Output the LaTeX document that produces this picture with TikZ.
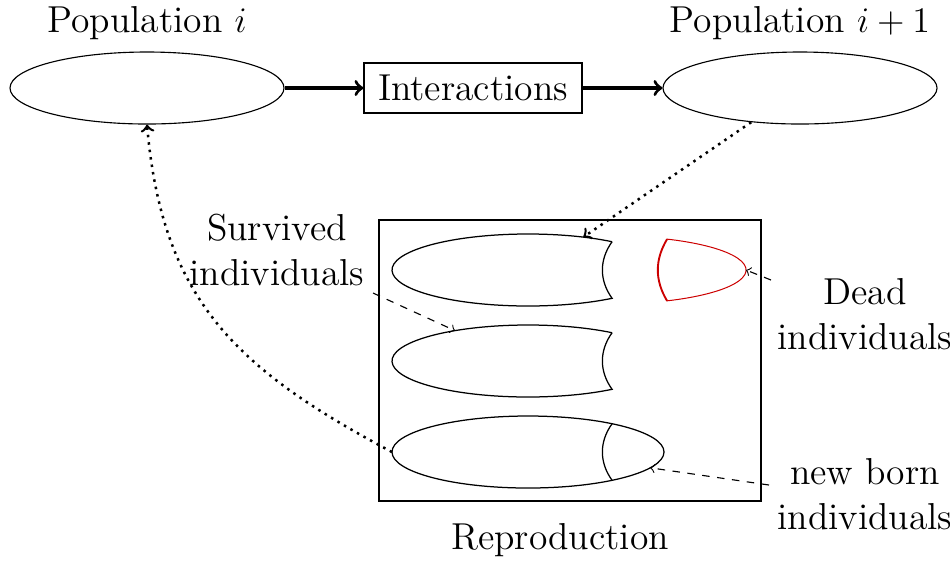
\documentclass[tikz,border=0pt]{standalone}
\usepackage{fontspec}
\setmainfont{lmroman12-regular.otf}
\usetikzlibrary{shapes.geometric}
\begin{document}
\begin{tikzpicture}[x=0.4pt,y=0.4pt,
  font=\fontsize{15pt}{18pt}\selectfont,
  popell/.style={draw, ellipse, minimum width=109.6pt, minimum height=28.8pt, inner sep=0pt, line width=0.45pt},
  boxnode/.style={draw, inner sep=0pt, line width=0.45pt},
  bigarrow/.style={->, line width=1.3pt},
  dotarrow/.style={->, dotted, line width=1pt},
  dasharrow/.style={->, dashed, line width=0.45pt},
  lbl/.style={align=center, inner sep=5pt},
  cell/.style={line width=0.5pt},
  deadcell/.style={draw=red!80!black, line width=0.4pt},
  deadcut/.style={draw=red!80!black, line width=0.75pt}]
\useasboundingbox (0,0) rectangle (950,-563);

% top row
\node[popell] (pop1) at (147,-88) {};
\node[popell] (pop2) at (800,-88) {};
\node[boxnode, minimum width=87.2pt, minimum height=20pt] (inter) at (473,-88) {Interactions};
\node[lbl] (lpop1) at (147,-23) {Population $i$};
\node[lbl] (lpop2) at (800,-23) {Population $i+1$};

% reproduction box
\node[boxnode, minimum width=152.8pt, minimum height=112.4pt] (repro) at (570,-360.5) {};
\node[lbl] (lrepro) at (560,-540) {Reproduction};

% side labels
\node[lbl] (lsurv) at (277,-250) {Survived\\individuals};
\node[lbl] (ldead) at (865,-314) {Dead\\individuals};
\node[lbl] (lnew) at (865,-494) {new born\\individuals};

% cells
\draw[cell] (612.1,-241.7) arc[start angle=51.8, end angle=308.2, x radius=136, y radius=36]
  to[bend left=36] (612.1,-241.7);
\draw[cell] (612.1,-332.7) arc[start angle=51.8, end angle=308.2, x radius=136, y radius=36]
  to[bend left=36] (612.1,-332.7);
\draw[cell] (528,-452) ellipse[x radius=136, y radius=36];
\draw[cell] (612.1,-423.7) to[bend right=36] (612.1,-480.3);
% dead cap
\draw[deadcell] (667.1,-239.1) arc[start angle=65.2, end angle=-65.2, x radius=136, y radius=34];
\draw[deadcut] (667.1,-300.9) to[bend left=31] (667.1,-239.1);

% connector end points
\coordinate (c1top) at (583.3,-237.1);
\coordinate (c2top) at (454.9,-330.6);
\coordinate (c3w) at (392,-452);
\coordinate (c3se) at (650.2,-467.8);
\coordinate (redtip) at (746,-270);
\coordinate (survfrom) at (373,-293);
\coordinate (deadfrom) at (771,-280);
\coordinate (newfrom) at (769,-485);

% connectors
\draw[bigarrow] (pop1) -- (inter);
\draw[bigarrow] (inter) -- (pop2);
\draw[dotarrow] (pop2.215) -- (c1top);
\draw[dotarrow] (c3w) to[out=152, in=-85, looseness=1.1] (pop1.south);
\draw[dasharrow] (survfrom) -- (c2top);
\draw[dasharrow] (deadfrom) -- (redtip);
\draw[dasharrow] (newfrom) -- (c3se);
\end{tikzpicture}
\end{document}
